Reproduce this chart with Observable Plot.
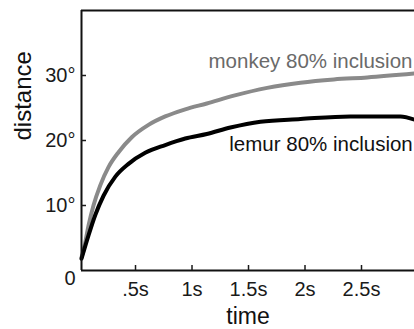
<!DOCTYPE html>
<html><head><meta charset="utf-8">
<script src="https://cdn.jsdelivr.net/npm/d3@7"></script>
<script src="https://cdn.jsdelivr.net/npm/@observablehq/plot@0.6"></script>
<style>html,body{margin:0;padding:0;background:#fff;} svg{display:block;}</style>
</head><body><div id="chart"></div>
<script>
const monkeyTime = [0.022, 0.049, 0.084, 0.128, 0.188, 0.261, 0.35, 0.467, 0.615, 0.763, 0.94, 1.131, 1.37, 1.665, 1.96, 2.255, 2.55, 2.97];
const monkeyDistance = [2.0, 3.8, 6.9, 10.0, 13.1, 15.9, 18.2, 20.5, 22.4, 23.7, 24.8, 25.7, 26.9, 28.1, 28.9, 29.4, 29.7, 30.3];
const lemurTime = [0.022, 0.084, 0.143, 0.217, 0.32, 0.438, 0.586, 0.763, 0.94, 1.131, 1.34, 1.606, 1.96, 2.4, 2.845, 2.97];
const lemurDistance = [1.8, 5.4, 8.5, 11.5, 14.4, 16.4, 18.1, 19.3, 20.3, 21.0, 22.0, 22.9, 23.3, 23.7, 23.7, 23.2];
const xTicks = [0.5, 1, 1.5, 2, 2.5];
const xTickLabels = [".5s", "1s", "1.5s", "2s", "2.5s"];
const yTicks = [10, 20, 30];
const yTickLabels = ["10°", "20°", "30°"];
const seriesNames = ["monkey 80% inclusion", "lemur 80% inclusion"];
const xTitle = "time";
const yTitle = "distance";

const xDomain = [0.022, 2.969];
const yDomain = [0, 40];

const monkey = monkeyTime.map((t, i) => ({t, v: monkeyDistance[i]}));
const lemur = lemurTime.map((t, i) => ({t, v: lemurDistance[i]}));

const chart = Plot.plot({
  width: 414, height: 329,
  marginLeft: 81, marginRight: 0, marginTop: 10, marginBottom: 59,
  style: {fontFamily: "'Liberation Sans', Arial, sans-serif", fontSize: "20px", color: "#1a1a1a", background: "#fff"},
  x: {domain: xDomain, axis: null},
  y: {domain: yDomain, axis: null},
  marks: [
    Plot.line(monkey, {x: "t", y: "v", stroke: "#8a8a8a", strokeWidth: 4, curve: "monotone-x"}),
    Plot.line(lemur, {x: "t", y: "v", stroke: "#000", strokeWidth: 4, curve: "monotone-x"}),
    Plot.ruleY([yDomain[0], yDomain[1]], {stroke: "#111", strokeWidth: 2}),
    Plot.ruleX([xDomain[0]], {stroke: "#111", strokeWidth: 2}),
    Plot.axisX({ticks: xTicks, tickSize: -5, tickPadding: 16, strokeWidth: 1.5, fontSize: 20, label: null,
      tickFormat: d => xTickLabels[xTicks.indexOf(d)]}),
    Plot.axisY({ticks: yTicks, tickSize: -5, tickPadding: 11, strokeWidth: 1.5, fontSize: 20, label: null,
      tickFormat: d => yTickLabels[yTicks.indexOf(d)]}),
    Plot.axisY({ticks: [0], tickSize: 0, tickPadding: 6, dy: 8, fontSize: 20, label: null, tickFormat: d => String(d)}),
    Plot.text([seriesNames[0]], {x: 1.146, y: 32.1, textAnchor: "start", lineAnchor: "middle", fill: "#6a6a6a", fontSize: 20.5}),
    Plot.text([seriesNames[1]], {x: 1.33, y: 19.4, textAnchor: "start", lineAnchor: "middle", fill: "#111", fontSize: 20.5}),
    Plot.text([xTitle], {frameAnchor: "bottom", dy: 46, lineAnchor: "middle", fontSize: 23, fill: "#111"}),
    Plot.text([yTitle], {frameAnchor: "left", dx: -58, rotate: -90, lineAnchor: "middle", fontSize: 24, fill: "#111"})
  ]
});
document.getElementById("chart").appendChild(chart);
</script>
</body></html>
